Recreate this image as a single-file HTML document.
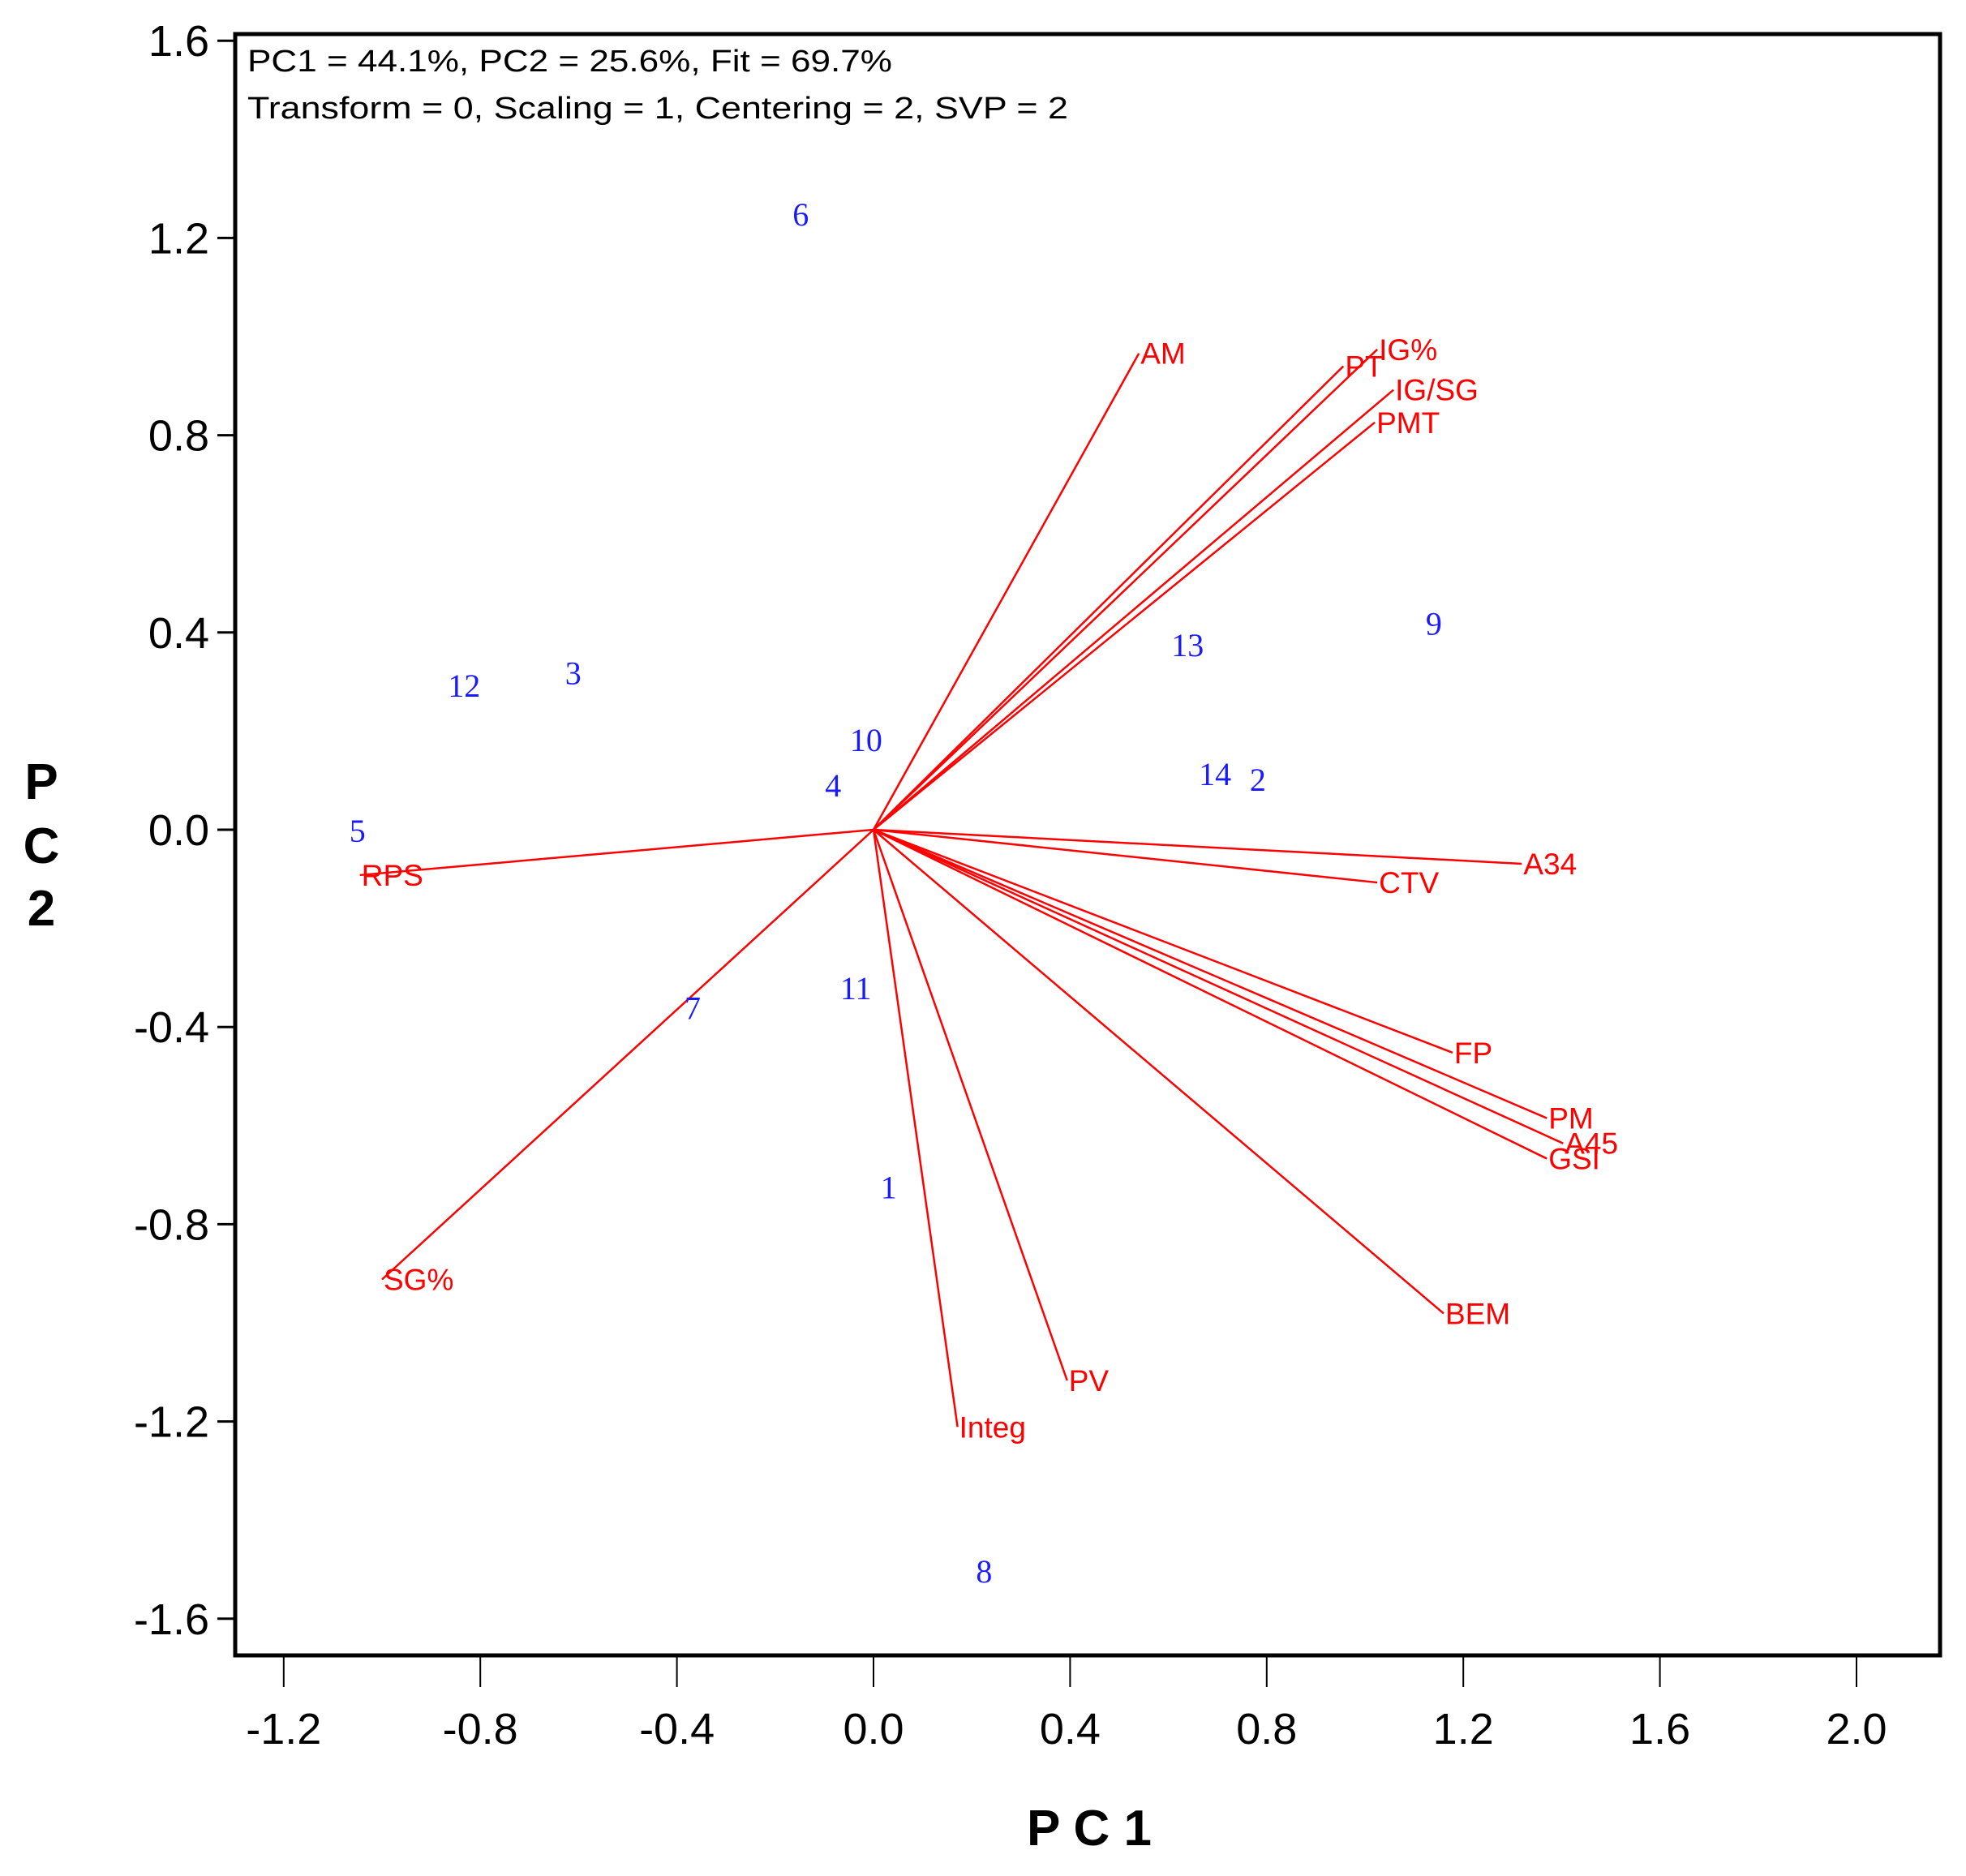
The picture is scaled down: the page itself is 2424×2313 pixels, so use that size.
<!DOCTYPE html>
<html><head><meta charset="utf-8"><style>
html,body{margin:0;padding:0;background:#fff;}
svg{display:block;}
</style></head><body>
<svg id="chart" width="2424" height="2313" viewBox="0 0 2424 2313" xmlns="http://www.w3.org/2000/svg">
<g id="axes"></g>
<g id="vectors"></g>
<g id="points"></g>
<rect x="290" y="42" width="2102" height="1999" fill="none" stroke="#000" stroke-width="5"/>
<text x="305" y="88" font-family="Liberation Sans, sans-serif" font-size="38" textLength="795" lengthAdjust="spacingAndGlyphs">PC1 = 44.1%, PC2 = 25.6%, Fit = 69.7%</text>
<text x="305" y="146" font-family="Liberation Sans, sans-serif" font-size="38" textLength="1012" lengthAdjust="spacingAndGlyphs">Transform = 0, Scaling = 1, Centering = 2, SVP = 2</text>
<text x="1343" y="2275" text-anchor="middle" font-family="Liberation Sans, sans-serif" font-weight="bold" font-size="62">P C 1</text>
<text font-family="Liberation Sans, sans-serif" font-weight="bold" font-size="62" text-anchor="middle">
<tspan x="51" y="985">P</tspan><tspan x="51" y="1064">C</tspan><tspan x="51" y="1141">2</tspan></text>
</svg>
<script>
const xTicks = [-1.2,-0.8,-0.4,0.0,0.4,0.8,1.2,1.6,2.0];
const yTicks = [1.6,1.2,0.8,0.4,0.0,-0.4,-0.8,-1.2,-1.6];
const traitNames = ["AM","IG%","PT","IG/SG","PMT","A34","CTV","FP","PM","A45","GSI","BEM","PV","Integ","SG%","RPS"];
const traitX = [0.54,1.025,0.956,1.058,1.02,1.319,1.025,1.178,1.37,1.403,1.37,1.16,0.394,0.171,-1.0,-1.045];
const traitY = [0.966,0.974,0.94,0.892,0.826,-0.069,-0.107,-0.452,-0.585,-0.636,-0.667,-0.981,-1.117,-1.211,-0.912,-0.092];
const genoNames = ["6","9","13","12","3","10","4","14","2","5","7","11","1","8"];
const genoX = [-0.148,1.14,0.639,-0.833,-0.611,-0.015,-0.082,0.695,0.782,-1.05,-0.368,-0.036,0.031,0.225];
const genoY = [1.247,0.417,0.373,0.291,0.317,0.181,0.089,0.112,0.1,-0.003,-0.363,-0.322,-0.726,-1.505];

const NS="http://www.w3.org/2000/svg";
function sx(v){return 1077 + v*606;}
function sy(v){return 1023 - v*608;}
function mk(tag,attrs,parent){const e=document.createElementNS(NS,tag);for(const k in attrs)e.setAttribute(k,attrs[k]);parent.appendChild(e);return e;}
const axes=document.getElementById('axes');
xTicks.forEach(t=>{
  const l=mk('line',{x1:sx(t),x2:sx(t),y1:2041,y2:2080,stroke:'#000','stroke-width':2},axes);
  
  
  const tx=mk('text',{x:sx(t),y:2150,'text-anchor':'middle','font-family':'Liberation Sans, sans-serif','font-size':54},axes);
  tx.textContent=t.toFixed(1);
  
  
});
yTicks.forEach(t=>{
  const l=mk('line',{x1:268,x2:290,y1:sy(t),y2:sy(t),stroke:'#000','stroke-width':3},axes);
  
  
  const tx=mk('text',{x:258,y:sy(t)+19,'text-anchor':'end','font-family':'Liberation Sans, sans-serif','font-size':54},axes);
  tx.textContent=t.toFixed(1);
  
  
});
const vg=document.getElementById('vectors');
traitNames.forEach((n,i)=>{
  const l=mk('line',{x1:sx(0),y1:sy(0),x2:sx(traitX[i]),y2:sy(traitY[i]),stroke:'#f00','stroke-width':2.5},vg);
  
  
  const tx=mk('text',{x:sx(traitX[i])+2,y:sy(traitY[i])+13,fill:'#f00','font-family':'Liberation Sans, sans-serif','font-size':37},vg);
  tx.textContent=n;
  
  
});
const pg=document.getElementById('points');
genoNames.forEach((n,i)=>{
  const tx=mk('text',{x:sx(genoX[i]),y:sy(genoY[i])+13,fill:'#1a1aff','text-anchor':'middle','font-family':'Liberation Serif, serif','font-size':40},pg);
  tx.textContent=n;
  
  
});
</script>
</body></html>
